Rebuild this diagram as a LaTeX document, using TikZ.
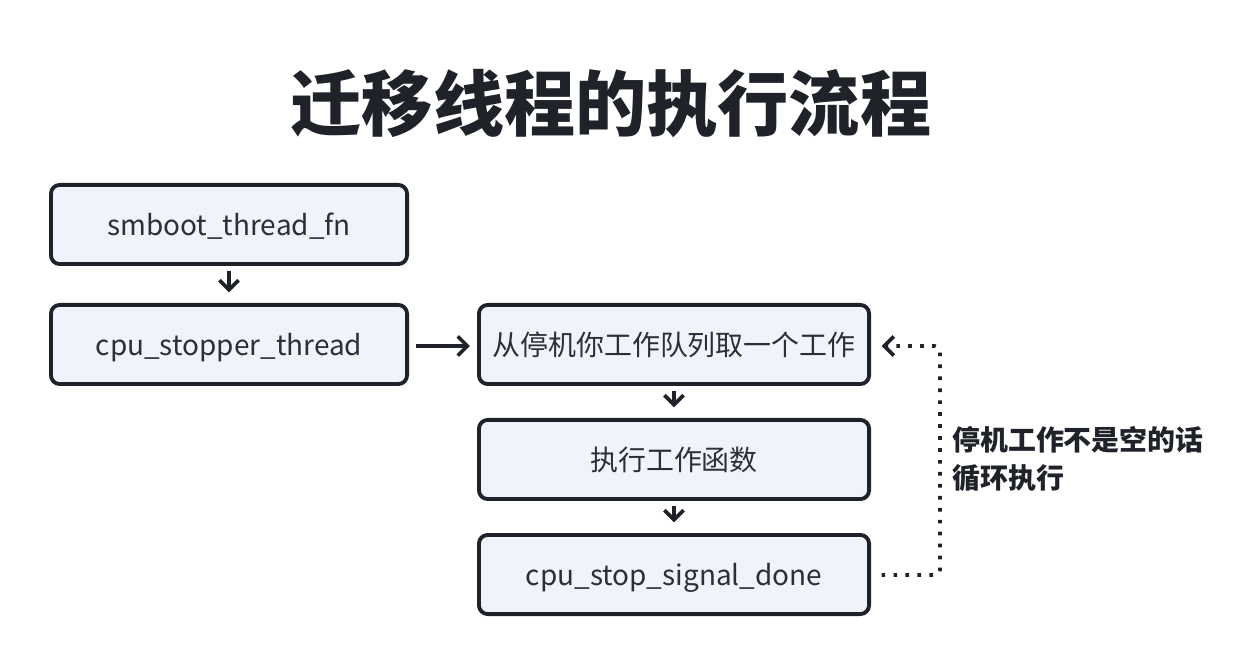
\documentclass[tikz,border=0pt]{standalone}
\usepackage{fontspec}
\setmainfont{Noto Sans CJK SC}
\usetikzlibrary{arrows.meta}
\definecolor{boxfill}{HTML}{EEF3FC}
\definecolor{ink}{HTML}{1F2329}
\definecolor{txt}{HTML}{2B2F36}
\newcommand{\boxtxt}[1]{\raisebox{-6.2pt}[0pt][0pt]{#1}}
\tikzset{
  flowbox/.style={draw=ink, line width=2.2pt, rounded corners=5pt, fill=boxfill,
    minimum height=83*0.02cm-2.2pt, text=txt, font=\fontsize{15.9}{18}\selectfont, inner sep=0pt},
  flowarrow/.style={draw=ink, line width=2.1pt, -{Straight Barb[length=5.5pt,width=11pt,line width=2.1pt]}},
  loopline/.style={draw=ink, line width=2.1pt, dash pattern=on 2.1pt off 4.7pt, rounded corners=3pt,
    -{Straight Barb[length=5.5pt,width=11pt,line width=2.1pt]}}
}
\begin{document}
\begin{tikzpicture}[x=0.02cm,y=-0.02cm]
\useasboundingbox (0,0) rectangle (1254,668);
\node[text=ink, font=\fontsize{40.5}{44}\selectfont\bfseries] (title) at (611,104) {迁移线程的执行流程};
\node[flowbox, minimum width=360*0.02cm-2.2pt] (b1) at (229,224.5) {\boxtxt{smboot\_thread\_fn}};
\node[flowbox, minimum width=360*0.02cm-2.2pt] (b2) at (229,344.5) {\boxtxt{cpu\_stopper\_thread}};
\node[flowbox, minimum width=394*0.02cm-2.2pt] (b3) at (674,344.5) {\boxtxt{从停机你工作队列取一个工作}};
\node[flowbox, minimum width=394*0.02cm-2.2pt] (b4) at (674,459.5) {\boxtxt{执行工作函数}};
\node[flowbox, minimum width=394*0.02cm-2.2pt] (b5) at (674,574.5) {\boxtxt{cpu\_stop\_signal\_done}};
\draw[flowarrow, shorten <=3pt, shorten >=6pt] (b1.south) -- (b2.north);
\draw[flowarrow, shorten <=4pt, shorten >=4pt] (b2.east |- 0,346) -- (b3.west |- 0,346);
\draw[flowarrow, shorten <=3pt, shorten >=6pt] (b3.south) -- (b4.north);
\draw[flowarrow, shorten <=3pt, shorten >=6pt] (b4.south) -- (b5.north);
\coordinate (c1) at (940,575);
\coordinate (c2) at (940,346);
\draw[loopline] ([xshift=6pt]b5.east |- 0,575) -- (c1) -- (c2) -- ([xshift=6pt]b3.east |- 0,346);
\node[anchor=west, align=left, text=ink, font=\fontsize{15.9}{21.5}\selectfont\bfseries] (lbl) at (946,459) {停机工作不是空的话\\循环执行};
\end{tikzpicture}
\end{document}
